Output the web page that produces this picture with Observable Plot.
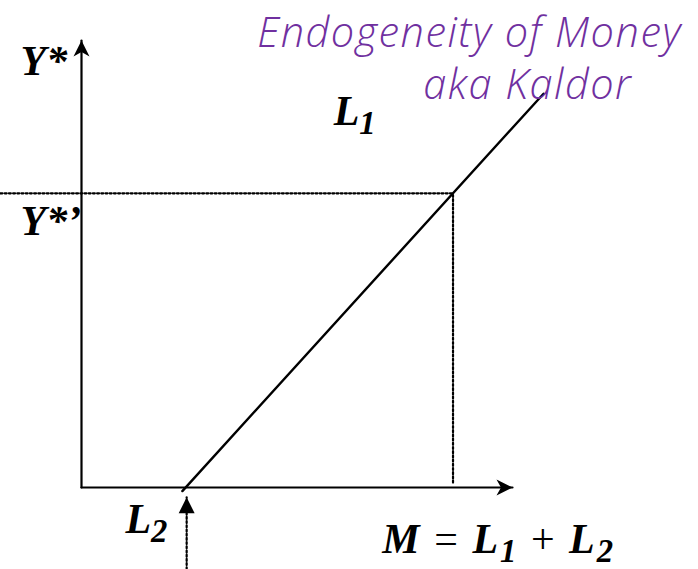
<!DOCTYPE html>
<html>
<head>
<meta charset="utf-8">
<script src="https://cdn.jsdelivr.net/npm/d3@7"></script>
<script src="https://cdn.jsdelivr.net/npm/@observablehq/plot@0.6"></script>
<style>
  html, body { margin: 0; padding: 0; background: #fff; }
  svg { display: block; }
</style>
</head>
<body>
<div id="chart"></div>
<script>
// ---- data (chart units: origin of the axes = 0,0) ----
const axisEnds = [{x: 10, y: 0, rot: 90}, {x: 0, y: 10, rot: 0}];   // arrow tips of M and Y* axes
const l1X = [2.34, 10.72];          // L1 schedule, start (at L2) and end
const l1Y = [-0.08, 8.81];
const yStarPrime = 6.58;            // Y*' level
const mAtYStarPrime = 8.62;         // money at Y*'
const dottedLeft = -1.88;           // where the dotted Y*' guide starts
const l2ArrowX = 2.44;              // exogenous L2 arrow
const l2ArrowY = [-1.83, -0.22];
const titleLines = ["Endogeneity of Money", "aka Kaldor"];
const axisLabels = ["Y*", "Y*\u2019", "L_1", "L_2", "M = L_1 + L_2"];

// ---- derived tables ----
const axes = [
  [{x: 0, y: 0}, {x: axisEnds[0].x, y: axisEnds[0].y}],
  [{x: 0, y: 0}, {x: axisEnds[1].x, y: axisEnds[1].y}]
];
const l1 = l1X.map((x, i) => ({x, y: l1Y[i]}));
const hGuide = [{x: dottedLeft, y: yStarPrime}, {x: mAtYStarPrime, y: yStarPrime}];
const vGuide = [{x: mAtYStarPrime, y: 0.11}, {x: mAtYStarPrime, y: yStarPrime}];
const l2Stem = l2ArrowY.map(y => ({x: l2ArrowX, y}));
const l2Tip = [{x: l2ArrowX, y: l2ArrowY[1], rot: 0}];

const labels = [
  {t: axisLabels[0], x: -1.415, y: 9.22},
  {t: axisLabels[1], x: -1.415, y: 5.64},
  {t: axisLabels[2], x: 5.85, y: 8.10},
  {t: axisLabels[3], x: 1.02, y: -1.01},
  {t: axisLabels[4], x: 6.98, y: -1.46}
];
const titles = [
  {t: titleLines[0], x: 4.08, y: 9.85},
  {t: titleLines[1], x: 7.93, y: 8.70}
];

// arrowhead symbols (tip at the anchor, pointing up before rotation)
const stealth = {draw(ctx, size) {
  const s = Math.sqrt(size / Math.PI);
  ctx.moveTo(0, 0); ctx.lineTo(0.5 * s, s); ctx.lineTo(0, 0.72 * s); ctx.lineTo(-0.5 * s, s); ctx.closePath();
}};
const tri = {draw(ctx, size) {
  const s = Math.sqrt(size / Math.PI);
  ctx.moveTo(0, 0); ctx.lineTo(0.5 * s, s); ctx.lineTo(-0.5 * s, s); ctx.closePath();
}};

const serif = {fontFamily: "Liberation Serif, Times New Roman, serif", fontWeight: "bold", fontStyle: "italic", fontSize: 42, textAnchor: "start", lineAnchor: "bottom", fill: "black"};
const dotted = {stroke: "black", strokeWidth: 2.2, strokeDasharray: "2,2.2"};

const chart = Plot.plot({
  width: 698,
  height: 569,
  marginLeft: 81,
  marginRight: 186,
  marginTop: 40,
  marginBottom: 82,
  x: {domain: [0, 10], axis: null},
  y: {domain: [0, 10], axis: null},
  marks: [
    ...axes.map(a => Plot.line(a, {x: "x", y: "y", stroke: "black", strokeWidth: 2.2})),
    Plot.dot(axisEnds, {x: "x", y: "y", rotate: "rot", symbol: stealth, r: 16, fill: "black", stroke: "none"}),
    Plot.line(hGuide, {x: "x", y: "y", ...dotted}),
    Plot.line(vGuide, {x: "x", y: "y", ...dotted}),
    Plot.line(l1, {x: "x", y: "y", stroke: "black", strokeWidth: 2.4}),
    Plot.line(l2Stem, {x: "x", y: "y", ...dotted}),
    Plot.dot(l2Tip, {x: "x", y: "y", rotate: "rot", symbol: tri, r: 16, fill: "black", stroke: "none"}),
    Plot.text(labels, {x: "x", y: "y", text: "t", ...serif}),
    Plot.text(titles, {x: "x", y: "y", text: "t", fontFamily: "Open Sans, Liberation Sans, sans-serif", fontWeight: 300, fontStyle: "italic", fontSize: 41.5, textAnchor: "start", lineAnchor: "bottom", fill: "#7030a0"})
  ]
});

// turn "_n" into subscripts and set operators upright
d3.select(chart).selectAll("text").each(function() {
  const t = this.textContent;
  if (titleLines.includes(t)) { this.setAttribute("letter-spacing", "1.5"); return; }
  if (!t.includes("_")) return;
  const parts = t.split(/(_\d|[=+])/).filter(p => p !== "");
  const sel = d3.select(this);
  if (parts.length > 3) sel.attr("letter-spacing", "2");
  sel.text(null);
  let shifted = false;
  parts.forEach(p => {
    const ts = sel.append("tspan");
    if (p.startsWith("_")) {
      ts.text(p.slice(1)).attr("font-size", "0.78em").attr("dy", 9);
      shifted = true;
      return;
    }
    ts.text(p);
    if (shifted) { ts.attr("dy", -9); shifted = false; }
    if (p === "=" || p === "+") ts.attr("font-style", "normal").attr("font-weight", "normal");
  });
});

document.getElementById("chart").appendChild(chart);
</script>
</body>
</html>
